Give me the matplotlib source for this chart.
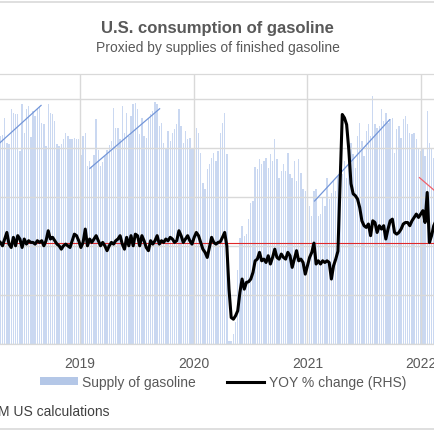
import numpy as np
import matplotlib
matplotlib.use('Agg')
import matplotlib.pyplot as plt
import matplotlib.dates as mdates
from matplotlib.patches import Patch
from matplotlib.lines import Line2D

plt.rcParams['font.family'] = ['Liberation Sans', 'DejaVu Sans']

# weekly data, first visible week ending 2018-04-20
first_week = '2018-04-20'

# supply of finished gasoline, thousand b/d
supply = [
    9235, 9250, 9608, 9100, 9080, 9780, 9710, 9680, 9680, 8930,
    9880, 9300, 9780, 9850, 9220, 9740, 9640, 9810, 9850, 9510,
    9480, 9030, 9880, 9710, 9680, 9540, 9070, 9030, 9070, 9170,
    9300, 9240, 9170, 9170, 9200, 9170, 9170, 8860, 9240, 9300,
    8630, 8730, 8630, 8860, 9575, 8950, 8630, 8700, 8830, 8950,
    9050,
    9134, 9812, 9405, 9405, 9168, 9845, 9303, 9710, 9235, 9642,
    9880, 9913, 9778, 9270, 9608, 9235, 9202, 9575, 9676, 9744,
    9927, 9880, 9438, 9507, 9100, 8998, 9337, 9134, 9303, 9371,
    9473, 9778, 9438, 9100, 9337, 9168, 9202, 8998, 8998, 9405,
    9303, 8897, 8287, 8151, 8558, 8660, 8796, 8897, 8727, 8930,
    9300, 9507, 9710, 8863, 5065, 5060, 5200, 5450, 6500, 7150,
    7405, 7200, 7240, 7540, 7880, 7910, 8613, 8558, 8762, 8660,
    8727, 8796, 8592, 8863, 8727, 9168, 8762, 8389, 8524, 8660,
    8524, 8897, 8457, 8389, 8727, 8321, 8762, 8491, 8151, 8117,
    7982, 7812, 7608, 8117, 8151, 7608, 7642, 7982, 7812,
    8389, 7948, 8084, 8321, 8117, 8422, 8625, 8457, 8727, 8389,
    8930, 9100, 8863, 8592, 9235, 9507, 9134, 8829, 9337, 9473,
    9235, 10048, 9473, 9405, 9438, 9778, 9540, 9710, 9507, 9575,
    9608, 8897, 9371, 9438, 9202, 9575, 9642, 9473, 9303, 9270,
    9303, 9168, 8998, 8930, 8998, 8829, 9744, 9100, 8965, 8796,
    8900,
]

# year-over-year % change (RHS)
yoy = [
    0.2, -1.8, 2.2, 6.1, -0.8, -2.8, 3.2, -1.8, 4.2, 2.2,
    -2.8, 2.2, -0.8, 1.2, 0.2, 0.2, -0.8, 1.2, 0.2, 1.2,
    -1.8, 1.2, 7.1, 2.2, 3.2, 1.2, -0.8, -1.8, -3.8, -1.8,
    -0.8, -1.8, -2.8, 1.2, 5.1, 4.2, 1.2, -2.8, 0.2, 8.1,
    -1.8, 2.2, 0.2, 2.2, 4.2, 1.2, -1.8, 0.2, -1.8, -4.7,
    -1.8,
    0.2, -0.8, 1.2, 2.2, 4.2, -0.8, -3.8, 3.2, -1.8, 4.2,
    -1.8, 5.1, 4.2, -1.8, 4.2, 1.2, -2.8, -4.7, 1.2, -0.8,
    1.2, 4.2, -0.8, 1.2, 0.2, 2.2, 1.2, 3.2, 2.2, 0.2,
    1.2, 7.1, 4.2, 0.2, 2.2, 4.2, 1.2, -0.8, 3.2, 6.1,
    4.2, 0.2, -3.8, -5.7, -8.7, -2.8, 3.2, 0.2, -0.8, 0.2,
    0.6, 3.2, 6.1, -1.8, -27.5, -44.3, -45.3, -43.3, -40.3, -29.4,
    -21.5, -27.5, -23.5, -23.1, -21.5, -17.6, -10.7, -9.7, -5.7, -10.7,
    -9.7, -11.7, -7.7, -12.6, -8.7, -3.8, -8.7, -9.7, -6.7, -8.7,
    -9.7, -5.7, -7.7, -14.6, -9.7, -4.7, -10.7, -9.7, -11.7, -18.6,
    -13.6, -8.7, -5.7, -0.2, -12.6, -10.7, -12.6, -10.7, -11.7,
    -10.7, -11.7, -21.5, -13.6, -9.7, -5.0, 35.0, 76.0, 74.0, 70.0,
    55.0, 35.0, 29.0, 27.9, 25.9, 20.9, 13.0, 10.1, 9.1, 11.1,
    4.2, 13.0, 12.0, 6.1, 10.1, 8.1, 10.1, 2.2, 8.1, 13.0,
    14.0, 6.1, 5.1, 6.1, 8.1, 11.1, 12.0, 12.0, 10.1, 13.0,
    15.0, 17.0, 15.0, 17.0, 19.0, 12.0, 29.8, 0.2, 4.2, 10.1,
    13.0,
]

# short trend segments drawn over the bars (start, end, values in thousand b/d)
trend_start = ['2018-04-19', '2019-02-02', '2021-01-24']
trend_end = ['2018-08-29', '2019-09-14', '2021-09-22']
trend_start_val = [9100, 8578, 7913]
trend_end_val = [9860, 9792, 9568]
red_start, red_end = '2021-12-27', '2022-02-15'
red_start_val, red_end_val = 8389, 8117

years = ['2019', '2020', '2021', '2022']

dates = np.datetime64(first_week) + np.arange(len(supply)) * np.timedelta64(7, 'D')
dates = dates.astype('datetime64[D]').astype(object)

W = H = 435
fig = plt.figure(figsize=(W / 100, H / 100), dpi=100)
ax = fig.add_axes([0, 1 - 345 / H, 1, 270 / H])
ax2 = ax.twinx()

grid_c = '#d9d9d9'
text_c = '#595959'

ax.bar(dates, supply, width=4.5, color='#cad8f1', edgecolor='none', zorder=1)
for s, e, sv, ev in zip(trend_start, trend_end, trend_start_val, trend_end_val):
    ax.plot([np.datetime64(s).astype(object), np.datetime64(e).astype(object)], [sv, ev],
            color='#7396d9', lw=0.9, zorder=3)
ax.plot([np.datetime64(red_start).astype(object), np.datetime64(red_end).astype(object)],
        [red_start_val, red_end_val], color='#f0606a', lw=0.9, zorder=3)

ax.set_ylim(5000, 10500)
ax.set_yticks([5000, 6000, 7000, 8000, 9000, 10000])
ax.set_xlim(mdates.datestr2num('2018-04-19'), mdates.datestr2num('2022-02-15'))
ax.set_xticks([mdates.datestr2num(y + '-01-01') for y in years])
ax.set_xticklabels(years)
ax.grid(True, color=grid_c, lw=1.0)
ax.set_axisbelow(False)
ax.tick_params(axis='x', length=0, pad=9, labelsize=10, labelcolor=text_c)
ax.tick_params(axis='y', length=0, labelleft=False)

ax2.axhline(0, color='#e02828', lw=0.8, zorder=1)
ax2.plot(dates, yoy, color='black', lw=2.2, zorder=2, solid_joinstyle='round')
ax2.set_ylim(-60, 100)
ax2.tick_params(axis='y', length=0, labelright=False)

for a in (ax, ax2):
    for side in ('left', 'right'):
        a.spines[side].set_visible(False)
    a.spines['top'].set_color(grid_c)
    a.spines['bottom'].set_color(grid_c)

fig.text(0.5, 1 - 29 / H, 'U.S. consumption of gasoline', ha='center', va='center',
         fontsize=12, fontweight='bold', color=text_c)
fig.text(0.5, 1 - 48 / H, 'Proxied by supplies of finished gasoline', ha='center', va='center',
         fontsize=10, color=text_c)

handles = [Patch(facecolor='#b4c7e7', edgecolor='none'), Line2D([], [], color='black', lw=2.2)]
fig.legend(handles, ['Supply of gasoline', 'YOY % change (RHS)'], loc='center left',
           bbox_to_anchor=(40 / W, 1 - 383 / H), ncol=2, frameon=False, fontsize=10,
           handlelength=2.7, handleheight=0.5, handletextpad=0.35, columnspacing=2.2,
           borderpad=0, borderaxespad=0, labelcolor=text_c)

fig.text(-2 / W, 1 - 412 / H, 'M US calculations', ha='left', va='center', fontsize=10, color='#404040')

fig.add_artist(Line2D([0, 1], [1 - 3 / H] * 2, color=grid_c, lw=1.2, transform=fig.transFigure))
fig.add_artist(Line2D([0, 1], [1 - 430 / H] * 2, color=grid_c, lw=1.2, transform=fig.transFigure))

fig.savefig('out.png', dpi=100)
